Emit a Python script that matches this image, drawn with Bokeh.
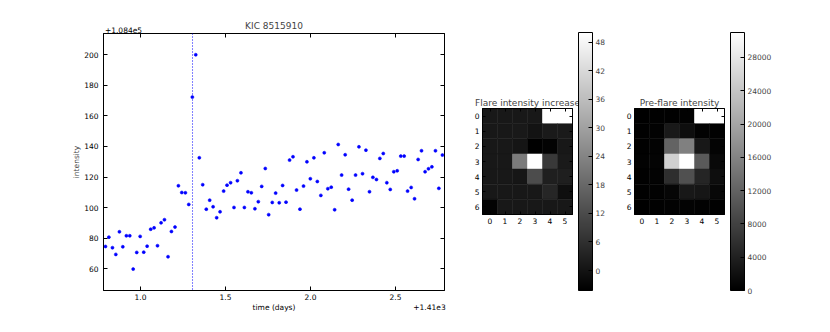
import numpy as np
from bokeh.plotting import figure
from bokeh.models import (Range1d, LinearAxis, FixedTicker, Span, ColumnDataSource,
                          LinearColorMapper, ColorBar)
from bokeh.layouts import row, column
from bokeh.embed import file_html
from bokeh.resources import INLINE

FONT = "DejaVu Sans"

# ---------------- data ----------------
# time in days, shown relative to the +1.41e3 axis offset
time_days = [0.794, 0.814, 0.835, 0.855, 0.876, 0.896, 0.917, 0.937, 0.957, 0.978,
             0.998, 1.019, 1.039, 1.060, 1.080, 1.100, 1.121, 1.141, 1.162, 1.182,
             1.203, 1.223, 1.243, 1.264, 1.284, 1.305, 1.325, 1.346, 1.366, 1.387,
             1.407, 1.427, 1.448, 1.468, 1.489, 1.509, 1.530, 1.550, 1.570, 1.591,
             1.611, 1.632, 1.652, 1.673, 1.693, 1.713, 1.734, 1.754, 1.775, 1.795,
             1.816, 1.836, 1.856, 1.877, 1.897, 1.918, 1.938, 1.959, 1.979, 1.999,
             2.020, 2.040, 2.061, 2.081, 2.102, 2.122, 2.142, 2.163, 2.183, 2.204,
             2.224, 2.245, 2.265, 2.285, 2.306, 2.326, 2.347, 2.367, 2.388, 2.408,
             2.428, 2.449, 2.469, 2.490, 2.510, 2.531, 2.551, 2.571, 2.592, 2.612,
             2.633, 2.653, 2.674, 2.694, 2.714, 2.735, 2.755, 2.776]
# intensity, shown relative to the +1.084e5 axis offset
intensity = [74.6, 80.7, 73.8, 69.4, 84.2, 74.4, 81.6, 81.6, 59.8, 70.7,
             81.2, 70.9, 74.8, 85.9, 86.8, 75.1, 90.1, 92.1, 67.9, 84.4,
             87.3, 114.3, 109.9, 109.7, 102.1, 172.3, 200.0, 132.6, 115.0, 99.0,
             104.9, 100.6, 93.4, 97.3, 110.8, 114.7, 116.3, 100.1, 117.6, 122.8,
             100.1, 110.4, 109.7, 99.3, 103.9, 113.9, 125.6, 95.4, 103.4, 109.5,
             103.2, 114.5, 103.6, 131.1, 133.3, 111.5, 99.0, 114.1, 130.0, 118.9,
             132.6, 117.1, 108.0, 135.9, 112.4, 113.4, 98.6, 141.3, 121.3, 134.6,
             112.1, 104.9, 121.3, 139.8, 122.2, 137.6, 110.4, 119.8, 118.4, 132.2,
             135.4, 116.3, 111.9, 123.5, 124.1, 133.7, 133.7, 110.8, 113.2, 105.8,
             131.5, 137.2, 123.5, 125.4, 126.7, 137.2, 112.6, 134.4]
flare_time = 1.306
time_offset_label = "+1.41e3"
intensity_offset_label = "+1.084e5"
x_ticks = [1.0, 1.5, 2.0, 2.5]
x_tick_labels = ["1.0", "1.5", "2.0", "2.5"]
y_ticks = [60, 80, 100, 120, 140, 160, 180, 200]

nan = float("nan")
flare_increase = [
    [1.0, 1.0, 1.0, 1.0, nan, nan],
    [1.0, 1.0, 1.3, 0.0, 1.5, 1.5],
    [1.0, 1.0, 0.3, -4.2, -3.5, 1.0],
    [1.0, 1.0, 22.0, 50.0, 8.0, 1.5],
    [1.0, 1.0, 0.5, 12.0, 2.5, 2.5],
    [1.0, 1.0, 1.0, 1.0, 4.0, -1.0],
    [-3.5, 1.0, 1.0, 1.0, 1.0, 1.0],
]
preflare = [
    [100, 150, 200, 250, nan, nan],
    [150, 300, 3100, 1800, 300, 200],
    [200, 400, 12100, 15500, 3000, 600],
    [250, 500, 25300, 31000, 10900, 1200],
    [200, 400, 5600, 9700, 4500, 1800],
    [150, 300, 800, 3000, 2700, 1000],
    [100, 200, 300, 400, 300, 200],
]
heat_cols = [0, 1, 2, 3, 4, 5]
heat_rows = [0, 1, 2, 3, 4, 5, 6]
cb1_range = (-4.2, 50.0)
cb2_range = (0.0, 31000.0)
cb1_ticks = [0, 6, 12, 18, 24, 30, 36, 42, 48]
cb2_ticks = [0, 4000, 8000, 12000, 16000, 20000, 24000, 28000]

GRAY = ["#%02x%02x%02x" % (i, i, i) for i in range(256)]
TICK_FS = "7.5px"


def style_axis(ax, ticks=None, labels=True):
    ax.axis_line_color = "black"
    ax.axis_line_width = 1
    ax.major_tick_in = 4
    ax.major_tick_out = 0
    ax.minor_tick_in = 0
    ax.minor_tick_out = 0
    ax.major_tick_line_color = "black"
    ax.major_label_text_font = FONT
    ax.major_label_text_color = "black"
    ax.major_label_text_font_size = TICK_FS
    ax.major_label_standoff = 4
    if not labels:
        ax.major_label_overrides = {t: "" for t in ticks}
        ax.major_label_standoff = 0


def text_axis(positions, texts):
    """An axis without line or ticks that only carries texts (offset / axis label)."""
    ax = LinearAxis(ticker=FixedTicker(ticks=positions))
    ax.major_label_overrides = {t: s for t, s in zip(positions, texts)}
    ax.axis_line_color = None
    ax.major_tick_line_color = None
    ax.minor_tick_line_color = None
    ax.major_tick_in = 0
    ax.major_tick_out = 0
    ax.minor_tick_in = 0
    ax.minor_tick_out = 0
    ax.major_label_standoff = 0
    ax.major_label_text_font = FONT
    ax.major_label_text_font_size = TICK_FS
    ax.major_label_text_color = "black"
    return ax


# ---------------- main light curve ----------------
x_lo, x_hi = 0.7824, 2.7882
p1 = figure(frame_width=341, frame_height=257,
            x_range=Range1d(x_lo, x_hi), y_range=Range1d(45.8, 213.9),
            min_border_left=103, min_border_right=26, min_border_top=33, min_border_bottom=40,
            toolbar_location=None, output_backend="svg")
p1.grid.visible = False
p1.outline_line_color = "black"
px_per_day = 341 / (x_hi - x_lo)

p1.xaxis.ticker = FixedTicker(ticks=x_ticks)
p1.yaxis.ticker = FixedTicker(ticks=y_ticks)
for ax in p1.xaxis + p1.yaxis:
    style_axis(ax)
p1.xaxis.major_label_overrides = {t: s for t, s in zip(x_ticks, x_tick_labels)}
p1.xaxis.major_label_standoff = 3
p1.yaxis.major_label_standoff = 5
p1.yaxis.axis_label = "intensity"
p1.yaxis.axis_label_text_font = FONT
p1.yaxis.axis_label_text_font_size = TICK_FS
p1.yaxis.axis_label_text_font_style = "normal"
p1.yaxis.axis_label_standoff = 0

top_ax = LinearAxis(ticker=FixedTicker(ticks=x_ticks))
style_axis(top_ax, x_ticks, labels=False)
p1.add_layout(top_ax, "above")
right_ax = LinearAxis(ticker=FixedTicker(ticks=y_ticks))
style_axis(right_ax, y_ticks, labels=False)
p1.add_layout(right_ax, "right")

# offset text of the intensity axis, left-aligned with the frame
off_y = text_axis([x_lo + 20 / px_per_day], [intensity_offset_label])
off_y.major_label_standoff = 1
p1.add_layout(off_y, "above")
# second row below the x axis: axis title (centred) and offset text (right)
below_ax = text_axis([(x_lo + x_hi) / 2, x_hi - 15 / px_per_day],
                     ["time (days)", time_offset_label])
p1.add_layout(below_ax, "below")

p1.title.text = "KIC 8515910"
p1.title.align = "center"
p1.title.text_font = FONT
p1.title.text_font_size = "9px"
p1.title.text_font_style = "normal"
try:
    p1.title.standoff = -15
except Exception:
    p1.title.standoff = 0

src = ColumnDataSource(dict(t=time_days, v=intensity))
p1.scatter("t", "v", source=src, size=3, marker="circle", fill_color="blue",
           line_color="blue", line_width=0.6)
p1.add_layout(Span(location=flare_time, dimension="height", line_color="blue",
                   line_dash="1 2", line_width=1))


# ---------------- heat maps ----------------
def heat(vals, rng, title, left_border, right_border):
    xs, ys, vs = [], [], []
    for r in heat_rows:
        for c in heat_cols:
            xs.append(c)
            ys.append(r)
            vs.append(vals[r][c])
    s = ColumnDataSource(dict(x=xs, y=ys, v=np.array(vs, dtype=float)))
    mapper = LinearColorMapper(palette=GRAY, low=rng[0], high=rng[1], nan_color="white")
    p = figure(frame_width=90, frame_height=106,
               x_range=Range1d(-0.5, 5.5), y_range=Range1d(6.5, -0.5),
               min_border_left=left_border, min_border_right=right_border,
               min_border_top=108, min_border_bottom=116,
               toolbar_location=None, output_backend="svg")
    p.grid.visible = False
    p.outline_line_color = "black"
    p.rect("x", "y", width=1, height=1, source=s,
           fill_color={"field": "v", "transform": mapper},
           line_color={"field": "v", "transform": mapper}, line_width=0.5)
    p.xaxis.ticker = FixedTicker(ticks=heat_cols)
    p.yaxis.ticker = FixedTicker(ticks=heat_rows)
    for ax in p.xaxis + p.yaxis:
        style_axis(ax)
        ax.major_tick_in = 3
        ax.major_label_standoff = 3
    ta = LinearAxis(ticker=FixedTicker(ticks=heat_cols))
    style_axis(ta, heat_cols, labels=False)
    ta.major_tick_in = 3
    p.add_layout(ta, "above")
    ra = LinearAxis(ticker=FixedTicker(ticks=heat_rows))
    style_axis(ra, heat_rows, labels=False)
    ra.major_tick_in = 3
    p.add_layout(ra, "right")
    p.title.text = title
    p.title.align = "center"
    p.title.text_font = FONT
    p.title.text_font_size = "9px"
    p.title.text_font_style = "normal"
    p.title.standoff = 2
    return p, mapper


def cbar(mapper, ticks, right_border):
    p = figure(frame_width=14, frame_height=258, x_range=Range1d(0, 1), y_range=Range1d(0, 1),
               min_border_left=0, min_border_right=right_border,
               min_border_top=32, min_border_bottom=40,
               toolbar_location=None, output_backend="svg",
               x_axis_type=None, y_axis_type=None)
    p.outline_line_color = None
    cb = ColorBar(color_mapper=mapper, ticker=FixedTicker(ticks=ticks),
                  location=(0, 0), width=14, height=258, padding=0, margin=0,
                  bar_line_color="black", bar_line_width=1,
                  major_tick_in=4, major_tick_out=0, major_tick_line_color="black",
                  minor_tick_in=0, minor_tick_out=0,
                  label_standoff=3, major_label_text_font=FONT,
                  major_label_text_font_size=TICK_FS, background_fill_alpha=0)
    p.add_layout(cb, "center")
    return p


p2, m1 = heat(flare_increase, cb1_range, "Flare intensity increase", 12, 6)
c1 = cbar(m1, cb1_ticks, 28)
p3, m2 = heat(preflare, cb2_range, "Pre-flare intensity", 14, 6)
c2 = cbar(m2, cb2_ticks, 76)

layout = row(column(p1), column(p2), column(c1), column(p3), column(c2), spacing=0)
open("out.html", "w").write(file_html(layout, INLINE))
